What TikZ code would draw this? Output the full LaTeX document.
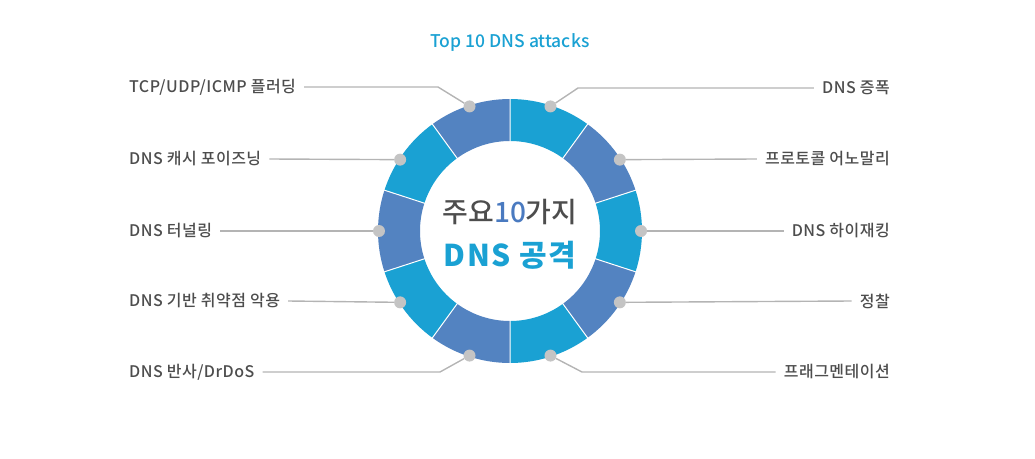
\documentclass[tikz,border=0pt]{standalone}
\usepackage{fontspec}
\setmainfont{Noto Sans CJK KR}
\newfontfamily\medfont{Noto Sans CJK KR Medium}
\usepackage{tikz}

\definecolor{segA}{RGB}{26,161,211}
\definecolor{segB}{RGB}{83,131,193}
\definecolor{numblue}{RGB}{74,122,192}
\definecolor{dotgray}{RGB}{196,196,196}
\definecolor{linegray}{RGB}{180,180,180}
\definecolor{txtgray}{RGB}{77,77,77}

\begin{document}
\begin{tikzpicture}[
        x=1pt, y=1pt,
        dot/.style={circle, fill=dotgray, inner sep=0pt, minimum size=12pt},
        lbl/.style={text=txtgray, font=\medfont\fontsize{16}{18}\selectfont\addfontfeature{LetterSpace=3}, inner xsep=8pt, inner ysep=2pt},
        conn/.style={linegray, line width=1.4pt},
        sep/.style={white, line width=1pt},
        ]

      \useasboundingbox (-510,-227) rectangle (525,231);

      \node[text=segA, font=\medfont\fontsize{17.5}{19}\selectfont] (title) at (0,189) {Top 10 DNS attacks};

      \fill[segA] (90:132) arc[start angle=90, end angle=54, radius=132] -- (54:90) arc[start angle=54, end angle=90, radius=90] -- cycle;
      \fill[segB] (54:132) arc[start angle=54, end angle=18, radius=132] -- (18:90) arc[start angle=18, end angle=54, radius=90] -- cycle;
      \fill[segA] (18:132) arc[start angle=18, end angle=-18, radius=132] -- (-18:90) arc[start angle=-18, end angle=18, radius=90] -- cycle;
      \fill[segB] (-18:132) arc[start angle=-18, end angle=-54, radius=132] -- (-54:90) arc[start angle=-54, end angle=-18, radius=90] -- cycle;
      \fill[segA] (-54:132) arc[start angle=-54, end angle=-90, radius=132] -- (-90:90) arc[start angle=-90, end angle=-54, radius=90] -- cycle;
      \fill[segB] (-90:132) arc[start angle=-90, end angle=-126, radius=132] -- (-126:90) arc[start angle=-126, end angle=-90, radius=90] -- cycle;
      \fill[segA] (-126:132) arc[start angle=-126, end angle=-162, radius=132] -- (-162:90) arc[start angle=-162, end angle=-126, radius=90] -- cycle;
      \fill[segB] (-162:132) arc[start angle=-162, end angle=-198, radius=132] -- (162:90) arc[start angle=-198, end angle=-162, radius=90] -- cycle;
      \fill[segA] (162:132) arc[start angle=162, end angle=126, radius=132] -- (126:90) arc[start angle=126, end angle=162, radius=90] -- cycle;
      \fill[segB] (126:132) arc[start angle=126, end angle=90, radius=132] -- (90:90) arc[start angle=90, end angle=126, radius=90] -- cycle;

      \draw[sep] (90:89) -- (90:133) (54:89) -- (54:133) (18:89) -- (18:133) (-18:89) -- (-18:133) (-54:89) -- (-54:133)
                 (-90:89) -- (-90:133) (-126:89) -- (-126:133) (-162:89) -- (-162:133) (162:89) -- (162:133) (126:89) -- (126:133);

      \node[text=txtgray, font=\medfont\fontsize{28}{30}\selectfont] (top) at (0,19) {주요\textcolor{numblue}{10}가지};
      \node[text=segA, font=\fontsize{30}{32}\selectfont\bfseries\addfontfeature{LetterSpace=6}] (dns) at (0,-24) {DNS 공격};

      \node[dot] (amp) at (72:131) {};
      \node[dot] (proto) at (33:131) {};
      \node[dot] (hijack) at (0:131) {};
      \node[dot] (recon) at (-33:131) {};
      \node[dot] (frag) at (-72:131) {};
      \node[dot] (flood) at (108:131) {};
      \node[dot] (cache) at (147:131) {};
      \node[dot] (tunnel) at (180:131) {};
      \node[dot] (vuln) at (-147:131) {};
      \node[dot] (refl) at (-108:131) {};

      \coordinate (ampk) at (68,143);
      \coordinate (fragk) at (72,-141);
      \coordinate (floodk) at (-72,144);
      \coordinate (reflk) at (-70,-141);

      \node[lbl, anchor=east] (ampl) at (388,143) {DNS 증폭};
      \node[lbl, anchor=east] (protol) at (388,72) {프로토콜 어노말리};
      \node[lbl, anchor=east] (hijackl) at (388,0) {DNS 하이재킹};
      \node[lbl, anchor=east] (reconl) at (388,-70) {정찰};
      \node[lbl, anchor=east] (fragl) at (388,-141) {프래그멘테이션};

      \node[lbl, anchor=west] (floodl) at (-389,144) {TCP/UDP/ICMP 플러딩};
      \node[lbl, anchor=west] (cachel) at (-389,72) {DNS 캐시 포이즈닝};
      \node[lbl, anchor=west] (tunnell) at (-389,0) {DNS 터널링};
      \node[lbl, anchor=west] (vulnl) at (-389,-70) {DNS 기반 취약점 악용};
      \node[lbl, anchor=west] (refll) at (-389,-141) {DNS 반사/DrDoS};

      \draw[conn] (amp) -- (ampk) -- (ampl.west);
      \draw[conn] (proto) -- (protol.west);
      \draw[conn] (hijack) -- (hijackl.west);
      \draw[conn] (recon) -- (reconl.west);
      \draw[conn] (frag) -- (fragk) -- (fragl.west);

      \draw[conn] (flood) -- (floodk) -- (floodl.east);
      \draw[conn] (cache) -- (cachel.east);
      \draw[conn] (tunnel) -- (tunnell.east);
      \draw[conn] (vuln) -- (vulnl.east);
      \draw[conn] (refl) -- (reflk) -- (refll.east);
    \end{tikzpicture}
\end{document}
